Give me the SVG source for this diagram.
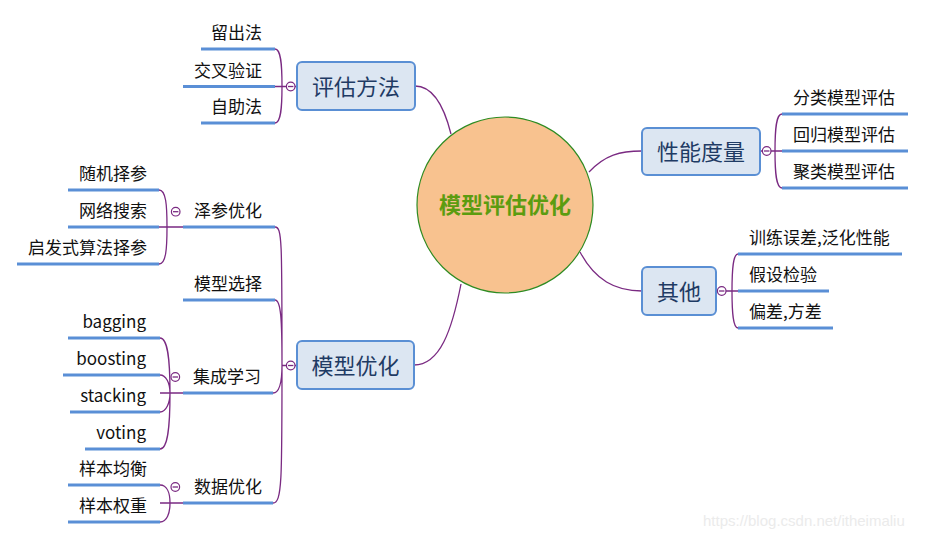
<svg xmlns="http://www.w3.org/2000/svg" width="925" height="540" viewBox="0 0 925 540">
<style>
.con{fill:none;stroke:#7a2a82;stroke-width:1.3}
.ul{fill:none;stroke:#5a8fd6;stroke-width:3}
.box{fill:#dce6f2;stroke:#5a8fd4;stroke-width:2}
.bt{font-family:"Noto Sans CJK SC","Microsoft YaHei",sans-serif;font-size:22px;fill:#1f3b64;text-anchor:middle}
.lt{font-family:"Noto Sans CJK SC","Microsoft YaHei",sans-serif;font-size:17px;fill:#111}
.end{text-anchor:end}
.col{fill:#fff;stroke:#7a2a82;stroke-width:1.2}
</style>
<rect width="925" height="540" fill="#fff"/>
<g id="connectors">
<path class="con" d="M415,86 C435,86 445,110 451,134"/>
<path class="con" d="M589,172 C605,155 620,151 642,151"/>
<path class="con" d="M580,252 C595,280 615,291 642,291"/>
<path class="con" d="M414,365 C440,365 452,330 461,284"/>
<path class="con" d="M275,49 C281,49 282,64 282,86 M275,123 C281,123 282,108 282,86 M275,86.5 H297"/>
<path class="con" d="M782,114 C776,114 775,129 775,151 M782,188 C776,188 775,173 775,151 M760,151 H782"/>
<path class="con" d="M738,254 C733,254 732,270 732,291 M738,328 C733,328 732,312 732,291 M716,291 H738"/>
<path class="con" d="M275,227 C282,227 282,240 282,365 M275,300 C281,300 282,320 282,365 M273,393 C280,393 282,380 282,365 M273,503 C282,503 282,480 282,365 M282,365.5 H297"/>
<path class="con" d="M159,190 C166,190 167,205 167,227 M159,264 C166,264 167,249 167,227 M159,227 H183"/>
<path class="con" d="M160,338 C168,338 170,360 170,393 M160,375 C166,375 170,383 170,393 M160,412 C166,412 170,403 170,393 M160,449 C168,449 170,426 170,393 M160,393 H183"/>
<path class="con" d="M160,485 C167,485 170,493 170,503 M160,522 C167,522 170,513 170,503 M160,503 H183"/>
</g>
<g id="center">
<circle cx="505" cy="205" r="88" fill="#f8c28f" stroke="#2e8b22" stroke-width="1.2"/>
<text x="505" y="213" style="font-family:'Noto Sans CJK SC','Microsoft YaHei',sans-serif;font-size:22px;font-weight:bold;fill:#5c9c10;text-anchor:middle">模型评估优化</text>
</g>
<g id="n-pinggu">
<rect class="box" x="297" y="62" width="118" height="48" rx="5"/>
<text class="bt" x="356" y="94.5">评估方法</text>
<circle class="col" cx="290.7" cy="86.5" r="4.3"/><path class="con" d="M288,86.5 H293.4"/>
</g>
<g id="l-liuchu"><path class="ul" d="M201,49 H275"/><text class="lt end" x="262" y="39">留出法</text></g>
<g id="l-jiaocha"><path class="ul" d="M183,86.5 H275"/><text class="lt end" x="262" y="76.5">交叉验证</text></g>
<g id="l-zizhu"><path class="ul" d="M201,123 H275"/><text class="lt end" x="262" y="113">自助法</text></g>
<g id="n-xingneng">
<rect class="box" x="642" y="128" width="118" height="47" rx="5"/>
<text class="bt" x="701" y="160">性能度量</text>
<circle class="col" cx="766.7" cy="151" r="4.3"/><path class="con" d="M764,151 H769.4"/>
</g>
<g id="l-fenlei"><path class="ul" d="M782,114 H908"/><text class="lt" x="793" y="104">分类模型评估</text></g>
<g id="l-huigui"><path class="ul" d="M782,151 H908"/><text class="lt" x="793" y="141">回归模型评估</text></g>
<g id="l-julei"><path class="ul" d="M782,188 H908"/><text class="lt" x="793" y="178">聚类模型评估</text></g>
<g id="n-qita">
<rect class="box" x="642" y="267" width="74" height="48" rx="5"/>
<text class="bt" x="679" y="299.5">其他</text>
<circle class="col" cx="721.7" cy="291" r="4.3"/><path class="con" d="M719,291 H724.4"/>
</g>
<g id="l-xunlian"><path class="ul" d="M738,254 H902"/><text class="lt" x="749" y="244">训练误差,泛化性能</text></g>
<g id="l-jiashe"><path class="ul" d="M738,291 H829"/><text class="lt" x="749" y="281">假设检验</text></g>
<g id="l-piancha"><path class="ul" d="M738,328 H833"/><text class="lt" x="749" y="318">偏差,方差</text></g>
<g id="n-moxing">
<rect class="box" x="297" y="341" width="117" height="48" rx="5"/>
<text class="bt" x="355.5" y="373.5">模型优化</text>
<circle class="col" cx="290.7" cy="365.5" r="4.3"/><path class="con" d="M288,365.5 H293.4"/>
</g>
<g id="n-zecan">
<path class="ul" d="M183,227 H275"/><text class="lt end" x="262" y="217">泽参优化</text>
<circle class="col" cx="175.7" cy="211.7" r="4.3"/><path class="con" d="M173,211.7 H178.4"/>
</g>
<g id="l-suiji"><path class="ul" d="M68,190 H159"/><text class="lt end" x="147" y="180">随机择参</text></g>
<g id="l-wangge"><path class="ul" d="M68,227 H159"/><text class="lt end" x="147" y="217">网络搜索</text></g>
<g id="l-qifa"><path class="ul" d="M17,264 H159"/><text class="lt end" x="147" y="254">启发式算法择参</text></g>
<g id="n-xuanze"><path class="ul" d="M183,300 H275"/><text class="lt end" x="262" y="290">模型选择</text></g>
<g id="n-jicheng">
<path class="ul" d="M183,393 H273"/><text class="lt end" x="261" y="383">集成学习</text>
<circle class="col" cx="175.3" cy="377" r="4.3"/><path class="con" d="M172.6,377 H178"/>
</g>
<g id="l-bagging"><path class="ul" d="M68,338 H160"/><text class="lt end" x="146" y="328">bagging</text></g>
<g id="l-boosting"><path class="ul" d="M63,375 H160"/><text class="lt end" x="146" y="365">boosting</text></g>
<g id="l-stacking"><path class="ul" d="M70,412 H160"/><text class="lt end" x="146" y="402">stacking</text></g>
<g id="l-voting"><path class="ul" d="M85,449 H160"/><text class="lt end" x="146" y="439">voting</text></g>
<g id="n-shuju">
<path class="ul" d="M183,503 H273"/><text class="lt end" x="262" y="493">数据优化</text>
<circle class="col" cx="175.3" cy="487" r="4.3"/><path class="con" d="M172.6,487 H178"/>
</g>
<g id="l-junheng"><path class="ul" d="M68,485 H160"/><text class="lt end" x="147" y="475">样本均衡</text></g>
<g id="l-quanzhong"><path class="ul" d="M68,522 H160"/><text class="lt end" x="147" y="512">样本权重</text></g>
<text x="703" y="526" style="font-family:'Liberation Sans',Arial,sans-serif;font-size:15px;fill:#ebebeb">https://blog.csdn.net/itheimaliu</text>
</svg>
